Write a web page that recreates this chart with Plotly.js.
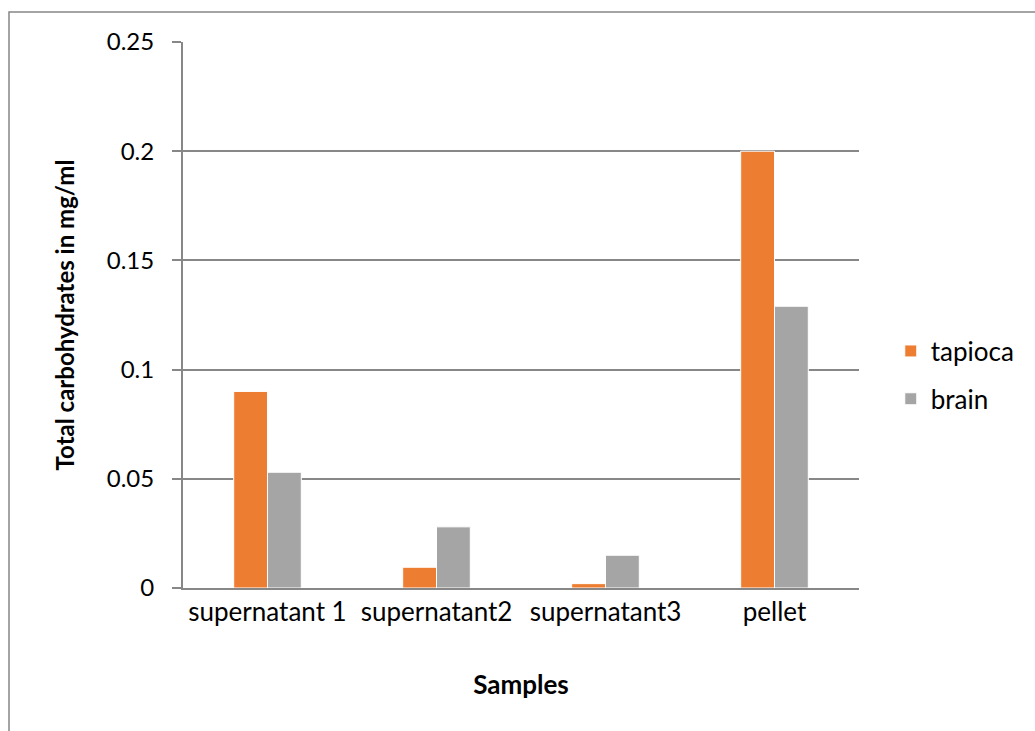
<!DOCTYPE html>
<html>
<head>
<meta charset="utf-8">
<script src="https://cdn.plot.ly/plotly-3.0.1.min.js"></script>
<style>html,body{margin:0;padding:0;background:#fff;}</style>
</head>
<body>
<div id="chart" style="width:1035px;height:731px;"></div>
<script>
const categories = ["supernatant 1", "supernatant2", "supernatant3", "pellet"];
const tapioca = [0.09, 0.0095, 0.002, 0.2];
const brain = [0.053, 0.028, 0.015, 0.129];
const yTicks = [0, 0.05, 0.1, 0.15, 0.2, 0.25];
const yTickLabels = ["0", "0.05", "0.1", "0.15", "0.2", "0.25"];

const font = "Lato, 'Open Sans', sans-serif";
const gridColor = "#878787";

const traces = [
  {type: "bar", name: "tapioca", x: categories, y: tapioca, legendgroup: "a",
   marker: {color: "#ED7D31", line: {color: "#ffffff", width: 1}}},
  {type: "bar", name: "brain", x: categories, y: brain, legendgroup: "b",
   marker: {color: "#A5A5A5", line: {color: "#ffffff", width: 1}}}
];

const layout = {
  width: 1035, height: 731,
  margin: {l: 183, r: 176, t: 42, b: 143},
  paper_bgcolor: "#ffffff", plot_bgcolor: "#ffffff",
  barmode: "group", bargap: 0.6, bargroupgap: 0,
  font: {family: font, color: "#000000", size: 24},
  showlegend: true,
  legend: {x: 1.047, y: 0.39, yanchor: "middle", xanchor: "left",
           font: {family: font, size: 26, color: "#000"},
           traceorder: "grouped", tracegroupgap: 11, itemwidth: 30},
  xaxis: {
    showgrid: false, showline: true, linecolor: gridColor, linewidth: 2,
    ticks: "", tickfont: {family: font, size: 26},
    ticklabelstandoff: 0,
    title: {text: "<b>Samples</b>", font: {family: font, size: 26}, standoff: 50},
    automargin: false
  },
  yaxis: {
    range: [0, 0.25], tickvals: yTicks, ticktext: yTickLabels,
    showgrid: true, gridcolor: gridColor, gridwidth: 2,
    showline: true, linecolor: gridColor, linewidth: 2,
    ticks: "outside", ticklen: 9, tickcolor: gridColor, tickwidth: 2,
    ticklabelstandoff: 13,
    tickfont: {family: font, size: 24},
    zeroline: false,
    title: {text: "<b>Total carbohydrates in mg/ml</b>", font: {family: font, size: 24}, standoff: 25},
    automargin: false
  },
  shapes: [
    {type: "rect", xref: "paper", yref: "paper",
     x0: (9 - 183) / 676, x1: (1040 - 183) / 676,
     y0: (731 - 740 - 143) / 546, y1: (731 - 12 - 143) / 546,
     line: {color: "#868686", width: 1.5}, fillcolor: "rgba(0,0,0,0)", layer: "below"}
  ]
};

Plotly.newPlot("chart", traces, layout, {displayModeBar: false, staticPlot: true});
</script>
</body>
</html>
